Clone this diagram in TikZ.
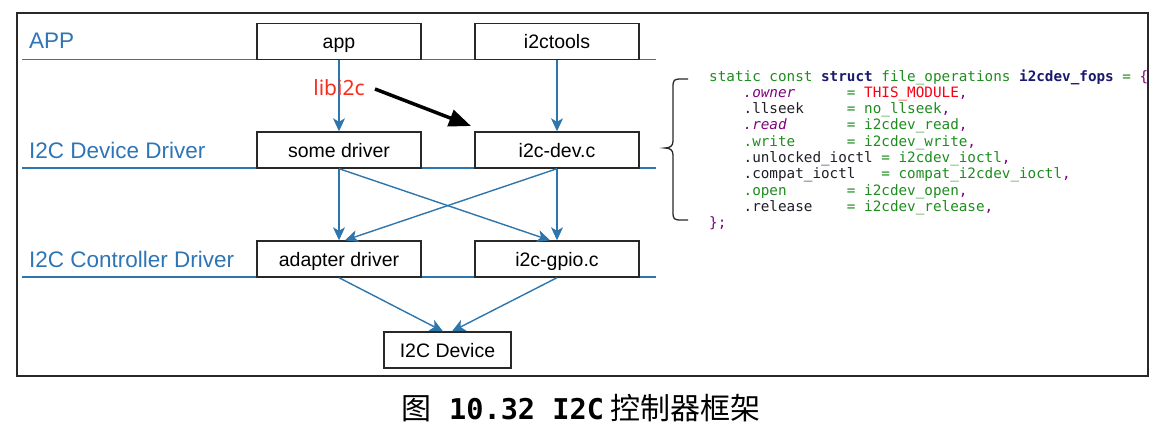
\documentclass[tikz,border=0pt]{standalone}
\usepackage{fontspec}
\setmainfont{Liberation Sans}
\newfontfamily\codefont{DejaVu Sans Mono}
\newfontfamily\cjkfont{Noto Sans CJK SC}
\newfontfamily\notofont{Noto Sans}
\usetikzlibrary{arrows.meta,calc}
\definecolor{lineblue}{RGB}{46,117,172}
\definecolor{labelblue}{RGB}{46,117,182}
\definecolor{boxgray}{RGB}{40,40,40}
\definecolor{libred}{RGB}{250,45,30}
\definecolor{codegreen}{RGB}{30,140,30}
\definecolor{codenavy}{RGB}{25,25,110}
\definecolor{codepurple}{RGB}{128,0,128}
\definecolor{codered}{RGB}{250,0,20}
\definecolor{codedark}{RGB}{30,30,40}
\newcommand\CodeG[1]{\textcolor{codegreen}{#1}}
\newcommand\CodeN[1]{\textcolor{codenavy}{#1}}
\newcommand\CodeP[1]{\textcolor{codepurple}{#1}}
\newcommand\CodeR[1]{\textcolor{codered}{#1}}
\newcommand\CodeK[1]{\textcolor{codedark}{#1}}
\begin{document}
\begin{tikzpicture}[x=1pt,y=-1pt,
  layerline/.style={draw=lineblue, line width=1.3pt},
  layerlabel/.style={anchor=base west, inner sep=0pt, text=labelblue, font=\fontsize{22.5}{24}\selectfont},
  box/.style={draw=boxgray, line width=1.4pt, fill=white, minimum width=164pt, minimum height=36pt,
    inner sep=0pt, text height=14pt, text depth=0pt, font=\fontsize{19.5}{21}\selectfont},
  flow/.style={draw=lineblue, line width=1.4pt, -{Stealth[length=13pt,width=12pt,inset=3.5pt]}},
  code/.style={anchor=base west, inner sep=0pt, font=\codefont\fontsize{14.3}{16}\selectfont}
]
\useasboundingbox (0,0) rectangle (1165,439);
% frame
\draw[line width=1.3pt, draw=boxgray] (17,13) rectangle (1148,376);
% layer lines
\draw[layerline] (22,59.5) -- (656,59.5);
\draw[layerline] (22,168) -- (656,168);
\draw[layerline] (22,277) -- (656,277);
% layer labels
\node[layerlabel] (lapp) at (29,48) {APP};
\node[layerlabel] (ldev) at (29,158) {I2C Device Driver};
\node[layerlabel] (lctl) at (29,267) {I2C Controller Driver};
% boxes
\node[box] (app) at (339,41.5) {app};
\node[box] (tools) at (557,41.5) {i2ctools};
\node[box] (some) at (339,150) {some driver};
\node[box] (i2cdev) at (557,150) {i2c-dev.c};
\node[box] (adapter) at (339,259) {adapter driver};
\node[box] (gpio) at (557,259) {i2c-gpio.c};
\node[box, minimum width=127pt] (device) at (447.5,350) {I2C Device};
% flows
\draw[flow] (app.south) -- (some.north);
\draw[flow] (tools.south) -- (i2cdev.north);
\draw[flow] (some.south) -- (adapter.north);
\draw[flow] (i2cdev.south) -- (gpio.north);
\draw[flow] (some.south) -- ([xshift=-7pt]gpio.north);
\draw[flow] (i2cdev.south) -- ([xshift=6pt]adapter.north);
\draw[flow] (adapter.south) -- ([xshift=-4.5pt]device.north);
\draw[flow] (gpio.south) -- ([xshift=4.5pt]device.north);
% libi2c
\node[anchor=base, inner sep=0pt, text=libred, font=\notofont\fontsize{21}{22}\selectfont] (lib) at (339,95) {libi2c};
\coordinate (libstart) at (375,89);
\coordinate (libend) at (471,126);
\draw[line width=3.5pt, -{Triangle[length=22pt,width=17pt]}] (libstart) -- (libend);
% brace
\draw[line width=1.3pt, draw=boxgray] (688,79) -- (681,79) .. controls (674,79) and (673,80) .. (673,87)
  -- (673,141) .. controls (673,146) and (670,148) .. (665,148)
  .. controls (670,148) and (673,150) .. (673,155) -- (673,212)
  .. controls (673,219) and (674,220) .. (681,220) -- (688,220);
% code
\node[code] (c1) at (709,81.0) {\CodeG{static~const}~\CodeN{\bfseries struct}~\CodeG{file\_operations}~\CodeN{\bfseries i2cdev\_fops}~\CodeG{=}~\CodeP{\{}};
\node[code] (c2) at (709,97.3) {~~~~\CodeP{\itshape .owner}~~~~~~\CodeG{=}~\CodeR{THIS\_MODULE}\CodeP{,}};
\node[code] (c3) at (709,113.6) {~~~~\CodeK{.llseek}~~~~~\CodeG{=~no\_llseek}\CodeP{,}};
\node[code] (c4) at (709,129.9) {~~~~\CodeP{\itshape .read}~~~~~~~\CodeG{=~i2cdev\_read}\CodeP{,}};
\node[code] (c5) at (709,146.2) {~~~~\CodeG{.write}~~~~~~\CodeG{=~i2cdev\_write}\CodeP{,}};
\node[code] (c6) at (709,162.5) {~~~~\CodeK{.unlocked\_ioctl}~\CodeG{=~i2cdev\_ioctl}\CodeP{,}};
\node[code] (c7) at (709,178.8) {~~~~\CodeK{.compat\_ioctl}~~~\CodeG{=~compat\_i2cdev\_ioctl}\CodeP{,}};
\node[code] (c8) at (709,195.1) {~~~~\CodeG{.open}~~~~~~~\CodeG{=~i2cdev\_open}\CodeP{,}};
\node[code] (c9) at (709,211.4) {~~~~\CodeK{.release}~~~~\CodeG{=~i2cdev\_release}\CodeP{,}};
\node[code] (c10) at (709,227.7) {\CodeP{\};}};
% caption
\node[inner sep=0pt] (cap) at (581,408) {{\cjkfont\fontsize{30}{32}\selectfont 图}{\codefont\bfseries\fontsize{28.6}{30}\selectfont\ 10.32 I2C}\hspace{6pt}{\cjkfont\fontsize{30}{32}\selectfont 控制器框架}};
\end{tikzpicture}
\end{document}
